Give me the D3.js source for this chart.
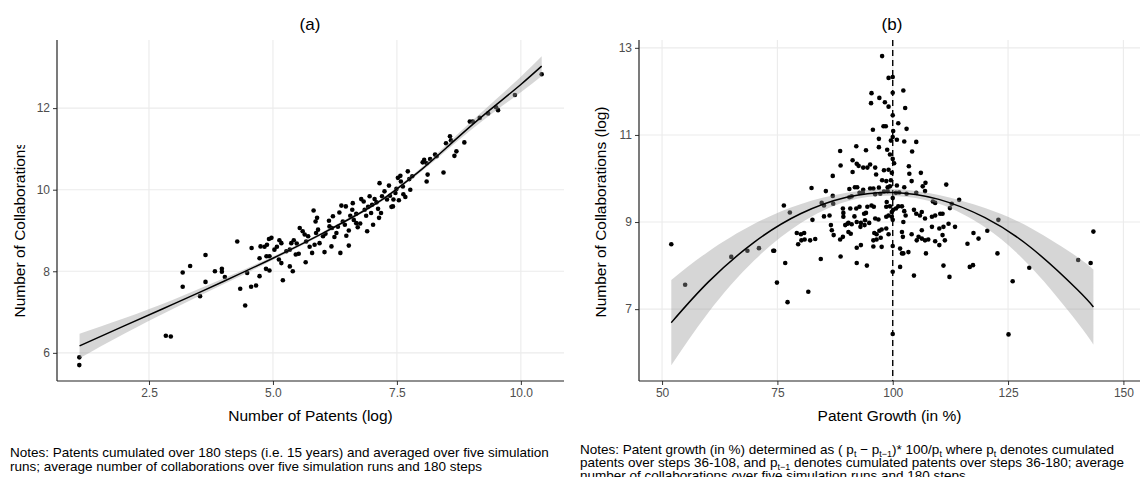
<!DOCTYPE html>
<html>
<head>
<meta charset="utf-8">
<script src="https://cdn.jsdelivr.net/npm/d3@7"></script>
<style>
  body { margin: 0; background: #fff; }
  svg { display: block; font-family: "Liberation Sans", Arial, sans-serif; }
</style>
</head>
<body>
<svg id="chart" width="1140" height="477"></svg>
<script>
// ---------- Panel (a): collaborations vs. patents (both log) ----------
const patentsLog = [1.095,1.095,2.84,2.94,3.18,3.18,3.33,3.53,3.64,3.64,3.83,3.97,3.97,4.03,4.28,4.34,4.44,4.48,4.57,4.56,4.66,4.73,4.73,4.75,4.83,4.88,4.87,4.93,4.86,4.93,4.92,4.97,5.03,5.08,5.13,5.17,5.12,5.17,5.20,5.34,5.40,5.27,5.34,5.37,5.42,5.48,5.46,5.52,5.54,5.60,5.66,5.64,5.71,5.67,5.74,5.79,5.82,5.86,5.89,5.87,5.91,5.84,5.94,6.01,6.06,6.04,6.13,6.14,6.19,6.21,6.18,6.24,6.28,6.31,6.36,6.34,6.38,6.41,6.45,6.47,6.48,6.53,6.53,6.56,6.60,6.61,6.63,6.68,6.68,6.71,6.76,6.78,6.83,6.85,6.88,6.90,6.92,6.95,6.98,7.00,7.02,7.05,7.09,7.12,7.15,7.14,7.18,7.20,7.25,7.30,7.34,7.36,7.39,7.42,7.43,7.47,7.49,7.52,7.57,7.54,7.58,7.62,7.63,7.67,7.72,7.75,7.77,7.81,8.02,8.05,8.10,8.12,8.10,8.17,8.27,8.30,8.44,8.49,8.57,8.59,8.66,8.70,8.86,8.97,9.03,9.17,9.34,9.50,9.54,9.88,10.42];
const collabsLogA = [5.89,5.70,6.42,6.40,7.97,7.62,8.13,7.39,8.40,7.74,8.00,8.06,7.99,7.86,8.73,7.57,7.16,7.96,8.57,7.62,7.65,7.88,8.32,8.61,8.60,8.65,8.37,8.37,8.06,8.02,8.79,8.82,8.53,8.60,8.76,8.69,8.29,8.20,7.78,8.12,8.00,8.49,8.53,8.69,8.76,8.68,8.41,8.43,9.06,8.98,8.22,8.90,8.86,8.73,8.60,8.45,9.49,9.22,9.31,8.94,9.02,8.65,8.69,8.86,8.92,8.47,9.24,9.10,9.06,9.35,8.61,8.84,8.94,9.09,8.45,9.44,9.61,9.22,9.14,9.59,8.87,9.00,8.63,9.36,9.51,9.67,9.26,9.18,9.41,9.08,9.17,9.77,9.71,9.51,9.36,8.98,9.58,9.84,9.43,9.63,9.14,9.77,9.69,9.53,10.16,9.31,9.43,9.84,9.96,9.76,10.10,9.85,9.58,9.59,9.76,9.92,10.02,10.29,10.34,9.74,10.20,10.08,9.89,9.82,10.45,10.26,10.00,10.33,10.67,10.73,10.65,10.37,10.20,10.75,10.86,10.82,10.42,11.14,11.31,11.21,10.83,10.94,11.16,11.67,11.67,11.76,11.87,12.02,11.95,12.32,12.83];

// smoothed fit with its confidence band
const fitAx  = [1.1, 2.0, 3.0, 4.0, 5.0, 6.0, 7.0, 7.5, 8.0, 8.5, 9.0, 9.5, 10.0, 10.42];
const fitAy  = [6.17, 6.66, 7.20, 7.75, 8.32, 8.93, 9.60, 10.02, 10.50, 11.03, 11.57, 12.08, 12.58, 13.03];
const fitAlo = [5.87, 6.47, 7.09, 7.68, 8.275, 8.895, 9.565, 9.98, 10.45, 10.96, 11.47, 11.94, 12.39, 12.79];
const fitAhi = [6.47, 6.85, 7.31, 7.82, 8.365, 8.965, 9.635, 10.06, 10.55, 11.10, 11.67, 12.22, 12.77, 13.27];

const xTicksA = [2.5, 5.0, 7.5, 10.0];
const yTicksA = [6, 8, 10, 12];

// ---------- Panel (b): collaborations vs. patent growth ----------
const growthPct = [97.7,99.1,95.4,102.3,95.3,97.1,98.3,99.1,102.7,95.7,98.0,98.5,101.2,103.0,100.1,97.0,97.0,99.6,100.9,102.5,105.1,88.6,92.1,94.2,98.8,104.2,99.4,91.3,92.2,92.6,88.7,93.6,94.5,95.1,96.2,100.3,98.1,99.1,91.3,87.0,96.4,99.8,103.5,103.6,106.1,97.7,98.6,99.6,104.1,82.4,85.5,90.6,91.8,92.3,93.6,95.1,95.8,97.0,98.9,99.4,100.9,102.5,106.5,107.1,111.6,87.0,90.6,91.1,92.8,93.5,96.2,97.3,98.1,98.9,100.7,101.4,103.0,105.1,107.0,76.4,77.7,84.6,85.1,87.1,89.2,89.3,90.8,92.1,92.8,94.5,95.4,95.9,93.8,94.2,98.7,98.6,99.4,99.8,100.1,100.7,101.2,102.0,102.5,102.8,104.6,106.3,108.7,109.2,112.8,114.4,110.3,110.8,112.4,82.6,85.1,86.3,89.3,91.7,90.4,91.1,89.7,90.2,92.2,93.1,94.0,94.9,96.2,96.9,98.6,99.1,99.8,102.3,105.1,105.9,107.0,108.5,109.2,86.6,86.8,87.2,88.6,89.2,90.4,90.9,93.0,93.9,96.0,96.5,97.1,97.6,98.6,95.8,96.5,97.4,99.1,102.0,102.2,104.1,106.3,105.6,106.3,105.2,107.0,107.7,108.5,110.1,111.0,112.1,113.5,110.8,111.3,109.2,110.1,79.2,80.1,80.8,79.5,80.2,80.9,82.1,83.2,74.1,76.7,84.4,88.7,92.2,93.1,92.2,94.4,95.8,97.6,101.6,102.0,102.3,103.4,101.6,104.6,107.2,111.0,112.3,116.2,117.5,118.6,116.7,117.4,120.5,122.9,122.7,74.9,77.2,81.7,126.0,52.0,55.0,65.0,68.5,71.0,74.3,143.5,142.9,140.2,129.6,125.1,100,100,100,100,100,100,100,100,100,100];
const collabsLogB = [12.81,12.31,11.96,12.02,11.73,11.85,11.75,11.65,11.62,11.12,11.20,11.20,11.27,11.14,11.09,10.91,10.72,10.87,10.89,10.85,10.84,10.63,10.74,10.65,10.66,10.62,10.55,10.42,10.34,10.29,10.30,10.25,10.25,10.32,10.25,10.35,10.19,10.20,10.15,10.06,10.09,10.13,10.28,10.11,10.13,9.96,9.94,9.96,9.94,9.78,9.71,9.76,9.80,9.80,9.74,9.77,9.77,9.79,9.80,9.82,9.84,9.80,9.82,9.90,9.86,9.60,9.57,9.59,9.67,9.68,9.64,9.65,9.70,9.71,9.67,9.68,9.65,9.67,9.71,9.38,9.22,9.44,9.38,9.42,9.31,9.21,9.31,9.31,9.35,9.35,9.38,9.35,9.19,9.21,9.46,9.35,9.36,9.23,9.28,9.31,9.36,9.36,9.25,9.15,9.28,9.23,9.47,9.44,9.42,9.51,9.19,9.19,9.32,9.05,9.13,9.15,9.12,9.13,8.98,8.95,8.93,8.96,9.00,8.98,9.04,8.98,9.08,9.06,9.12,9.15,9.12,9.00,9.19,9.15,9.08,9.12,9.15,8.93,8.81,8.70,8.60,8.66,8.77,8.73,8.89,8.93,8.75,8.72,8.80,8.83,8.85,8.58,8.60,8.64,8.72,8.77,8.66,8.72,8.81,8.66,8.62,8.58,8.58,8.60,8.89,8.85,8.89,8.96,8.89,8.70,8.58,8.56,8.47,8.75,8.72,8.75,8.49,8.58,8.60,8.58,8.61,8.34,8.06,8.15,8.21,8.41,8.47,8.06,8.00,8.44,8.43,8.39,8.28,8.28,8.31,7.97,7.77,8.28,8.00,7.74,8.50,8.75,8.62,7.97,8.01,8.80,9.05,8.28,7.61,7.16,7.40,7.64,8.49,7.56,8.20,8.34,8.40,8.34,8.78,8.06,8.13,7.95,6.42,12.33,11.97,11.45,10.95,10.45,9.55,9.05,8.45,7.86,6.43];

// quadratic fit with its confidence band
const fitBx  = [52, 60, 70, 80, 90, 100, 110, 120, 130, 140, 143.5];
const fitBy  = [6.69, 7.62, 8.54, 9.19, 9.57, 9.68, 9.52, 9.10, 8.41, 7.45, 7.05];
const fitBlo = [5.71, 6.92, 8.12, 8.97, 9.47, 9.60, 9.42, 8.88, 7.96, 6.70, 6.19];
const fitBhi = [7.67, 8.32, 8.96, 9.41, 9.67, 9.76, 9.62, 9.32, 8.86, 8.20, 7.91];

const xTicksB = [50, 75, 100, 125, 150];
const yTicksB = [7, 9, 11, 13];
const refGrowth = 100;

const svg = d3.select("#chart");

// clip used to trim the left panel's y-axis title
svg.append("defs").append("clipPath").attr("id", "ylabA-clip")
  .append("rect").attr("x", 0).attr("y", 145).attr("width", 56).attr("height", 340);

function drawPanel(o) {
  const g = svg.append("g");
  const x = d3.scaleLinear().domain(o.xDomain).range([o.left, o.right]);
  const y = d3.scaleLinear().domain(o.yDomain).range([o.bottom, o.top]);

  // major grid
  g.append("g").selectAll("line").data(o.xTicks).join("line")
    .attr("x1", d => x(d)).attr("x2", d => x(d))
    .attr("y1", o.top).attr("y2", o.bottom)
    .attr("stroke", "#ebebeb").attr("stroke-width", 1.1);
  g.append("g").selectAll("line").data(o.yTicks).join("line")
    .attr("y1", d => y(d)).attr("y2", d => y(d))
    .attr("x1", o.left).attr("x2", o.right)
    .attr("stroke", "#ebebeb").attr("stroke-width", 1.1);

  // observations
  g.append("g").selectAll("circle").data(o.xs).join("circle")
    .attr("cx", d => x(d)).attr("cy", (d, i) => y(o.ys[i]))
    .attr("r", 2.3).attr("fill", "#000");

  // reference line
  if (o.vline !== undefined) {
    g.append("line")
      .attr("x1", x(o.vline)).attr("x2", x(o.vline))
      .attr("y1", o.top).attr("y2", o.bottom)
      .attr("stroke", "#000").attr("stroke-width", 1.4)
      .attr("stroke-dasharray", "6,4");
  }

  // confidence band and fitted curve
  const idx = d3.range(o.fx.length);
  g.append("path").datum(idx)
    .attr("d", d3.area().curve(d3.curveNatural)
      .x(i => x(o.fx[i])).y0(i => y(o.flo[i])).y1(i => y(o.fhi[i])))
    .attr("fill", "#999").attr("fill-opacity", 0.4);
  g.append("path").datum(idx)
    .attr("d", d3.line().curve(d3.curveNatural)
      .x(i => x(o.fx[i])).y(i => y(o.fy[i])))
    .attr("fill", "none").attr("stroke", "#000").attr("stroke-width", 1.5);

  // axes
  const ax = g.append("g").attr("transform", `translate(0,${o.bottom})`)
    .call(d3.axisBottom(x).tickValues(o.xTicks).tickFormat(o.xFmt).tickSize(4).tickPadding(3));
  const ay = g.append("g").attr("transform", `translate(${o.left},0)`)
    .call(d3.axisLeft(y).tickValues(o.yTicks).tickFormat(d3.format("d")).tickSize(4).tickPadding(3));
  [ax, ay].forEach(a => {
    a.select(".domain").remove();
    a.selectAll(".tick line").attr("stroke", "#333").attr("stroke-width", 1);
    a.selectAll(".tick text").attr("fill", "#4d4d4d").style("font-size", "12px")
      .style("font-family", "'Liberation Sans', Arial, sans-serif");
  });
  g.append("line").attr("x1", o.left).attr("x2", o.right)
    .attr("y1", o.bottom).attr("y2", o.bottom).attr("stroke", "#222").attr("stroke-width", 1.2);
  g.append("line").attr("x1", o.left).attr("x2", o.left)
    .attr("y1", o.top).attr("y2", o.bottom).attr("stroke", "#222").attr("stroke-width", 1.2);

  // titles
  g.append("text").attr("x", o.titleX).attr("y", 30).attr("text-anchor", "middle")
    .style("font-size", "17px").text(o.title);
  g.append("text").attr("x", (o.left + o.right) / 2).attr("y", 421).attr("text-anchor", "middle")
    .style("font-size", "15.5px").text(o.xLabel);
  const yl = g.append("text")
    .attr("transform", `translate(${o.yLabelX},212) rotate(-90)`)
    .attr("text-anchor", "middle").style("font-size", "15.5px").text(o.yLabel);
  if (o.yLabelClip) {
    g.append("g").attr("clip-path", `url(#${o.yLabelClip})`).node().appendChild(yl.node());
  }
}

drawPanel({
  left: 57, right: 564, top: 40, bottom: 381,
  xDomain: [0.645, 10.87], yDomain: [5.31, 13.67],
  xTicks: xTicksA, yTicks: yTicksA, xFmt: d3.format(".1f"),
  xs: patentsLog, ys: collabsLogA,
  fx: fitAx, fy: fitAy, flo: fitAlo, fhi: fitAhi,
  title: "(a)", titleX: 310,
  xLabel: "Number of Patents (log)", yLabel: "Number of Collaborations (log)",
  yLabelX: 25, yLabelClip: "ylabA-clip"
});

drawPanel({
  left: 639, right: 1140, top: 40, bottom: 381,
  xDomain: [45.0, 153.6], yDomain: [5.35, 13.18],
  xTicks: xTicksB, yTicks: yTicksB, xFmt: d3.format("d"),
  xs: growthPct, ys: collabsLogB,
  fx: fitBx, fy: fitBy, flo: fitBlo, fhi: fitBhi,
  vline: refGrowth,
  title: "(b)", titleX: 892,
  xLabel: "Patent Growth (in %)", yLabel: "Number of Collaborations (log)",
  yLabelX: 606
});

// notes under each panel; {sub: ...} parts are drawn as subscripts
const notes = svg.append("g").style("font-size", "13.5px").attr("fill", "#000");
function noteLine(x, y, parts) {
  const t = notes.append("text").attr("x", x).attr("y", y);
  let shift = 0;
  parts.forEach(p => {
    const sub = typeof p !== "string";
    const target = sub ? 3 : 0;
    const s = t.append("tspan").attr("dy", target - shift).text(sub ? p.sub : p);
    if (sub) s.style("font-size", "9px");
    shift = target;
  });
}
noteLine(10, 457, ["Notes: Patents cumulated over 180 steps (i.e. 15 years) and averaged over five simulation"]);
noteLine(10, 471, ["runs; average number of collaborations over five simulation runs and 180 steps"]);
noteLine(580, 454, ["Notes: Patent growth (in %) determined as ( p", {sub: "t"}, " \u2212 p", {sub: "t\u22121"},
  ")* 100/p", {sub: "t"}, " where p", {sub: "t"}, " denotes cumulated"]);
noteLine(580, 467, ["patents over steps 36-108, and p", {sub: "t\u22121"},
  " denotes cumulated patents over steps 36-180; average"]);
noteLine(580, 480, ["number of collaborations over five simulation runs and 180 steps"]);
</script>
</body>
</html>
